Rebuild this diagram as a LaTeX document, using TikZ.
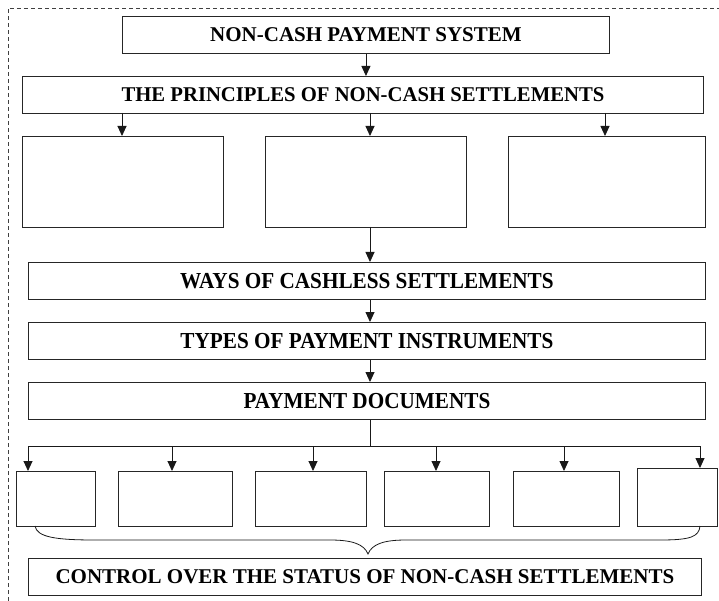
\documentclass[tikz,border=0pt]{standalone}
\usepackage{fontspec}
\setmainfont{Liberation Serif}
\usetikzlibrary{arrows.meta,calc}

\tikzset{
  box/.style={draw=black!85, line width=0.9pt, inner sep=0pt, anchor=north west,
    font=\bfseries\fontsize{21}{25}\selectfont, align=center},
  link/.style={draw=black!90, line width=0.9pt, -{Triangle[width=9pt,length=10pt]}},
  plain/.style={draw=black!90, line width=0.9pt},
  frame/.style={draw=black!75, line width=0.7pt, dash pattern=on 4pt off 3pt},
}

% place a box by its top-left corner, width and height (all in pt)
\newcommand{\boxat}[6][]{%
  \node[box, minimum width=#4pt, minimum height=#5pt, #1] (#2) at (#3) {#6};}
% slightly taller lettering used in the chain boxes
\newcommand{\tallcaps}[1]{\scalebox{1.01}[1.09]{#1}}

\begin{document}
\begin{tikzpicture}[x=1pt, y=-1pt]
\useasboundingbox (0,0) rectangle (719,601);

% dashed outer frame (only the top and left sides fall inside the page)
\draw[frame] (8,601) -- (8,8) -- (719,8);

% top of the scheme
\boxat{sys}{122,16}{487}{37}{NON-CASH PAYMENT SYSTEM}
\boxat{pri}{22,76}{681}{37}{\scalebox{0.985}[1]{THE PRINCIPLES OF NON-CASH SETTLEMENTS}}

% three principle groups
\boxat{pa}{22,136}{201}{91}{}
\boxat{pb}{265,136}{201}{91}{}
\boxat{pc}{508,136}{197}{91}{}

% main chain
\boxat{way}{28,262}{677}{37}{\tallcaps{WAYS OF CASHLESS SETTLEMENTS}}
\boxat{typ}{28,322}{677}{37}{\tallcaps{TYPES OF PAYMENT INSTRUMENTS}}
\boxat{doc}{28,382}{677}{37}{\tallcaps{PAYMENT DOCUMENTS}}

% kinds of payment documents
\boxat{d1}{16,471}{79}{55}{}
\boxat{d2}{118,471}{114}{55}{}
\boxat{d3}{255,471}{111}{55}{}
\boxat{d4}{384,471}{105}{55}{}
\boxat{d5}{513,471}{106}{55}{}
\boxat{d6}{637,468}{80}{58}{}

\boxat{ctl}{28,558}{673}{37}{CONTROL OVER THE STATUS OF NON-CASH SETTLEMENTS}

% connectors
\draw[link] (sys.south) -- (sys.south |- pri.north);
\coordinate (p1) at (122,113);
\coordinate (p2) at (370,113);
\coordinate (p3) at (605,113);
\draw[link] (p1) -- (p1 |- pa.north);
\draw[link] (p2) -- (p2 |- pb.north);
\draw[link] (p3) -- (p3 |- pc.north);

\coordinate (q) at (370,227);
\draw[link] (q) -- (q |- way.north);
\draw[link] (q |- way.south) -- (q |- typ.north);
\draw[link] (q |- typ.south) -- (q |- doc.north);

% distribution bus under the payment documents
\coordinate (bus) at (370,446);
\coordinate (b1) at (28,446);
\coordinate (b2) at (172,446);
\coordinate (b3) at (313,446);
\coordinate (b4) at (436,446);
\coordinate (b5) at (564,446);
\coordinate (b6) at (700,446);
\draw[plain] (q |- doc.south) -- (bus);
\draw[plain] (b1) -- (b6);
\draw[link] (b1) -- (b1 |- d1.north);
\draw[link] (b2) -- (b2 |- d2.north);
\draw[link] (b3) -- (b3 |- d3.north);
\draw[link] (b4) -- (b4 |- d4.north);
\draw[link] (b5) -- (b5 |- d5.north);
\draw[link] (b6) -- (b6 |- d6.north);

% brace gathering the document kinds
\coordinate (bl) at (35,526);
\coordinate (br) at (700,526);
\coordinate (bt) at (368,554);
\draw[plain, line width=0.8pt]
  (bl) .. controls (37,537) and (55,540) .. (95,540)
  -- (330,540) .. controls (352,540) and (364,544) .. (bt)
  .. controls (372,544) and (384,540) .. (406,540)
  -- (660,540) .. controls (690,540) and (699,537) .. (br);
\end{tikzpicture}
\end{document}
